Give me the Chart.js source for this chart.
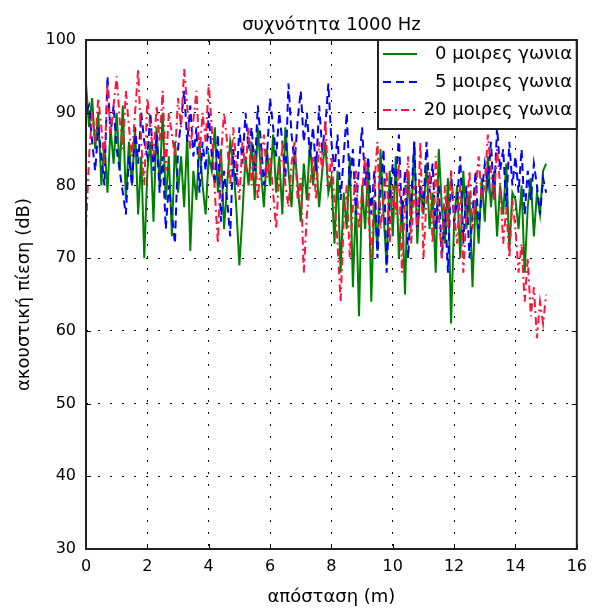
<!DOCTYPE html>
<html><head><meta charset="utf-8">
<script src="https://cdn.jsdelivr.net/npm/chart.js@4/dist/chart.umd.min.js"></script>
<style>html,body{margin:0;padding:0;background:#fff;}</style>
</head><body>
<canvas id="c" width="595" height="611" style="display:block;width:595px;height:611px"></canvas>
<script>
const titleText = 'συχνότητα 1000 Hz';
const xTitle = 'απόσταση (m)';
const yTitle = 'ακουστική πίεση (dB)';
const seriesNames = ['0 μοιρες γωνια', '5 μοιρες γωνια', '20 μοιρες γωνια'];
const xTicks = [0, 2, 4, 6, 8, 10, 12, 14, 16];
const yTicks = [30, 40, 50, 60, 70, 80, 90, 100];

const distance = [
0,0.1,0.2,0.3,0.4,0.5,0.6,0.7,0.8,0.9,1,
1.1,1.2,1.3,1.4,1.5,1.6,1.7,1.8,1.9,2,
2.1,2.2,2.3,2.4,2.5,2.6,2.7,2.8,2.9,3,
3.1,3.2,3.3,3.4,3.5,3.6,3.7,3.8,3.9,4,
4.1,4.2,4.3,4.4,4.5,4.6,4.7,4.8,4.9,5,
5.1,5.2,5.3,5.4,5.5,5.6,5.7,5.8,5.9,6,
6.1,6.2,6.3,6.4,6.5,6.6,6.7,6.8,6.9,7,
7.1,7.2,7.3,7.4,7.5,7.6,7.7,7.8,7.9,8,
8.1,8.2,8.3,8.4,8.5,8.6,8.7,8.8,8.9,9,
9.1,9.2,9.3,9.4,9.5,9.6,9.7,9.8,9.9,10,
10.1,10.2,10.3,10.4,10.5,10.6,10.7,10.8,10.9,11,
11.1,11.2,11.3,11.4,11.5,11.6,11.7,11.8,11.9,12,
12.1,12.2,12.3,12.4,12.5,12.6,12.7,12.8,12.9,13,
13.1,13.2,13.3,13.4,13.5,13.6,13.7,13.8,13.9,14,
14.1,14.2,14.3,14.4,14.5,14.6,14.7,14.8,14.9,15];

const deg0 = [
94,88,92,85,90,80,86,79,88,83,90,
82,91,78,86,80,88,76,84,70,82,
86,75,88,80,90,78,84,73,86,79,
84,77,87,71,82,78,86,80,76,84,
82,88,79,85,74,80,86,83,77,69,
76,84,80,86,78,88,82,77,85,80,
87,79,84,76,88,82,77,85,80,75,
83,78,86,80,84,77,82,86,79,81,
72,82,68,79,74,84,66,78,62,80,
74,83,64,78,71,85,76,69,82,73,
84,70,78,65,82,75,86,72,80,76,
83,74,79,68,85,77,72,81,61,75,
80,70,82,74,79,66,78,72,81,75,
84,77,82,73,80,76,83,71,79,78,
74,80,68,77,81,73,79,76,82,83];

const deg5 = [
90,91,86,82,88,84,80,95,87,91,85,
82,79,76,84,80,88,83,90,86,84,
90,82,87,79,84,74,80,76,72,85,
89,93,86,91,84,88,79,86,82,90,
84,80,87,75,82,78,73,85,80,88,
83,90,85,88,82,91,86,80,84,92,
88,84,90,86,81,94,87,83,89,93,
86,90,84,88,82,91,85,88,94,86,
82,87,78,84,90,80,85,76,83,88,
80,84,76,82,70,79,85,68,78,83,
80,87,75,82,70,78,86,74,80,77,
86,79,83,74,80,70,77,68,82,75,
78,84,72,80,70,76,82,74,79,83,
80,86,78,88,82,85,77,86,80,84,
79,85,76,82,78,83,80,76,81,79];

const deg20 = [
74,84,90,86,92,88,83,94,87,91,95,
89,85,93,88,84,90,96,86,80,92,
88,84,91,86,93,82,90,87,84,92,
88,96,91,85,89,93,84,90,86,94,
88,79,72,84,90,86,80,88,83,78,
86,82,88,80,85,78,83,87,81,84,
79,74,82,85,80,77,83,86,78,81,
68,76,80,84,78,86,82,89,80,84,
78,72,64,75,80,70,77,82,74,79,
84,76,70,80,86,74,78,82,72,80,
76,83,68,78,84,72,80,74,86,70,
78,82,72,84,76,70,80,74,82,76,
72,80,68,76,82,74,79,84,78,80,
87,82,78,85,80,72,77,70,78,74,
68,72,64,70,62,66,59,64,61,65];

const FAMILY = "'DejaVu Sans', 'Liberation Sans', Arial, sans-serif";
const COLORS = ['rgb(0,128,0)', 'rgb(0,0,255)', 'rgb(255,20,60)'];
const DASHES = [[], [8, 5], [8, 4, 2, 4]];

function pts(ys) { return ys.map((y, i) => ({x: distance[i], y: y})); }

const framePlugin = {
  id: 'frame',
  afterDatasetsDraw(chart) {
    const {ctx, chartArea: a, scales: {x, y}} = chart;
    ctx.save();
    ctx.strokeStyle = '#000';
    ctx.lineWidth = 1;
    ctx.setLineDash([]);
    ctx.beginPath();
    xTicks.forEach(v => {
      const px = Math.round(x.getPixelForValue(v)) + 0.5;
      ctx.moveTo(px, a.bottom); ctx.lineTo(px, a.bottom - 5);
      ctx.moveTo(px, a.top); ctx.lineTo(px, a.top + 5);
    });
    yTicks.forEach(v => {
      const py = Math.round(y.getPixelForValue(v)) + 0.5;
      ctx.moveTo(a.left, py); ctx.lineTo(a.left + 5, py);
      ctx.moveTo(a.right, py); ctx.lineTo(a.right - 5, py);
    });
    ctx.stroke();
    const lx0 = 378, ly0 = a.top, lx1 = a.right, ly1 = 129;
    ctx.fillStyle = '#fff';
    ctx.fillRect(lx0, ly0, lx1 - lx0, ly1 - ly0);
    ctx.strokeStyle = '#222';
    ctx.lineWidth = 2;
    ctx.strokeRect(lx0, ly0, lx1 - lx0, ly1 - ly0);
    const rows = [54, 82, 110];
    seriesNames.forEach((name, i) => {
      ctx.strokeStyle = COLORS[i];
      ctx.lineWidth = 2;
      ctx.setLineDash(DASHES[i]);
      ctx.beginPath();
      ctx.moveTo(383, rows[i]); ctx.lineTo(417, rows[i]);
      ctx.stroke();
      ctx.setLineDash([]);
      ctx.fillStyle = '#000';
      ctx.font = '18px ' + FAMILY;
      ctx.textAlign = 'right';
      ctx.textBaseline = 'middle';
      ctx.fillText(name, 572, rows[i]);
    });
    ctx.strokeStyle = '#222';
    ctx.lineWidth = 2;
    ctx.strokeRect(a.left, a.top, a.right - a.left, a.bottom - a.top);
    ctx.restore();
  }
};

const tickFont = {family: FAMILY, size: 16};
new Chart(document.getElementById('c'), {
  type: 'line',
  data: {
    datasets: [
      {label: seriesNames[0], data: pts(deg0), borderColor: COLORS[0], borderWidth: 2, borderDash: DASHES[0], pointRadius: 0, tension: 0, order: 3, fill: false},
      {label: seriesNames[1], data: pts(deg5), borderColor: COLORS[1], borderWidth: 2, borderDash: DASHES[1], pointRadius: 0, tension: 0, order: 2, fill: false},
      {label: seriesNames[2], data: pts(deg20), borderColor: COLORS[2], borderWidth: 2, borderDash: DASHES[2], pointRadius: 0, tension: 0, order: 1, fill: false}
    ]
  },
  options: {
    responsive: false,
    animation: false,
    devicePixelRatio: 1,
    layout: {padding: {left: 0, right: 15, top: 0, bottom: 0}},
    plugins: {
      legend: {display: false},
      tooltip: {enabled: false},
      title: {display: true, fullSize: false, text: titleText, color: '#000', font: {family: FAMILY, size: 18, weight: 'normal'}, padding: {top: 15, bottom: 3.4}}
    },
    scales: {
      x: {
        type: 'linear', min: 0, max: 16,
        afterBuildTicks: s => { s.ticks = xTicks.map(v => ({value: v})); },
        ticks: {font: tickFont, color: '#000', padding: 8, maxRotation: 0, autoSkip: false},
        grid: {color: '#000', lineWidth: 1, drawTicks: false},
        border: {display: false, dash: [2, 10]},
        title: {display: true, text: xTitle, color: '#000', font: {family: FAMILY, size: 18}, padding: {top: 0, bottom: 3}},
        afterFit: s => { s.height = 62; }
      },
      y: {
        type: 'linear', min: 30, max: 100,
        afterBuildTicks: s => { s.ticks = yTicks.map(v => ({value: v})); },
        ticks: {font: tickFont, color: '#000', padding: 10, autoSkip: false},
        grid: {color: '#000', lineWidth: 1, drawTicks: false},
        border: {display: false, dash: [2, 10]},
        title: {display: true, text: yTitle, color: '#000', font: {family: FAMILY, size: 18}, padding: {top: 14, bottom: 0}},
        afterFit: s => { s.width = 86; }
      }
    }
  },
  plugins: [framePlugin]
});
</script>
</body></html>
